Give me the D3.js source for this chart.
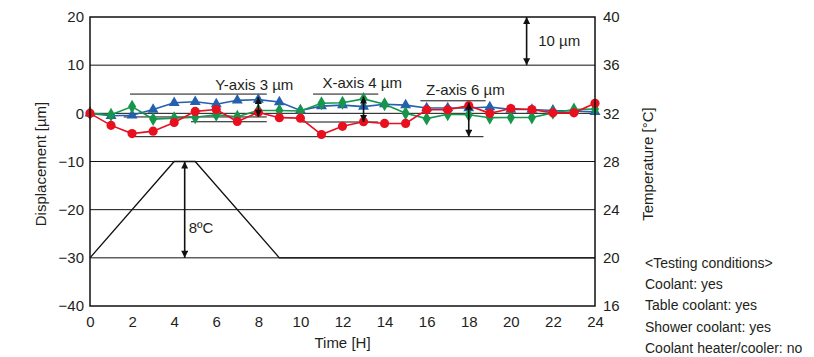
<!DOCTYPE html>
<html><head><meta charset="utf-8">
<script src="https://cdn.jsdelivr.net/npm/d3@7"></script>
<style>
body{margin:0;background:#fff;}
text{font-family:"Liberation Sans",Arial,Helvetica,sans-serif;fill:#231f20;}
</style></head>
<body><svg id="c" width="814" height="357"></svg>
<script>
// ---- data ----
const hours = [0,1,2,3,4,5,6,7,8,9,10,11,12,13,14,15,16,17,18,19,20,21,22,23,24];
const yAxisDisp = [0,-0.5,-0.4,0.8,2.2,2.4,1.9,2.7,2.85,2.35,0.6,1.5,1.7,1.4,1.9,1.7,1.1,1.1,1.1,1.3,0.8,0.8,0.6,0.5,0.3];
const xAxisDisp = [0,-0.3,1.4,-1.2,-1.0,-0.8,-0.3,-0.7,0.6,0.6,0.5,2.1,2.2,3.0,1.9,0.0,-1.1,-0.2,-0.3,-0.9,-0.85,-0.85,0.1,0.8,0.9];
const zAxisDisp = [0,-2.5,-4.2,-3.7,-1.9,0.4,0.8,-1.7,0.2,-0.9,-1.0,-4.4,-2.7,-1.75,-2.1,-2.1,0.75,0.75,1.6,0.0,1.0,0.8,0.1,0.1,2.1];
const tempHours = [0,4,5,9,24];
const tempValues = [20,28,28,20,20];
const dispTicks = [-40,-30,-20,-10,0,10,20];
const gridValues = [10,0,-10,-20,-30];
const tempTicks = [16,20,24,28,32,36,40];
const timeTicks = [0,2,4,6,8,10,12,14,16,18,20,22,24];
// annotation reference segments (µm, from hour, to hour)
const refValues = [4.0,-0.75,-1.75,4.0,-1.8,2.6,-4.85];
const refStart  = [1.9,1.6,4.8,10.6,10.1,15.7,1.9];
const refEnd    = [8.4,8.4,8.4,13.7,13.7,18.8,18.7];
// range arrows (hour, from µm, to µm)
const arrowHours = [8.0,13.0,18.0,20.75];
const arrowFrom  = [3.4,3.5,2.2,20];
const arrowTo    = [-0.7,-1.8,-4.85,10];
const arrowLabels = ["Y-axis 3 µm","X-axis 4 µm","Z-axis 6 µm","10 µm"];
const labelHours = [5.95,11.05,15.97,21.3];
const labelValues = [4.8,5.2,3.8,14.0];
const tempArrowHour = 4.5, tempArrowFrom = 28, tempArrowTo = 20, tempArrowLabel = "8ºC", tempLabelAt = 22.1;
const conditions = ["<Testing conditions>","Coolant: yes","Table coolant: yes","Shower coolant: yes","Coolant heater/cooler: no"];

// ---- chart ----
const svg = d3.select("#c");
const L=90,R=595,T=17,B=306;
const x = d3.scaleLinear().domain([0,24]).range([L,R]);
const y = d3.scaleLinear().domain([-40,20]).range([B,T]);
const yT = d3.scaleLinear().domain([16,40]).range([B,T]);
const FS = "15px";

const defs = svg.append("defs");
defs.append("marker").attr("id","ah").attr("viewBox","0 0 10 10").attr("refX",10).attr("refY",5)
  .attr("markerWidth",9).attr("markerHeight",7).attr("markerUnits","userSpaceOnUse").attr("orient","auto-start-reverse")
  .append("path").attr("d","M0,0L10,5L0,10Z").attr("fill","#111");

// grid
svg.append("g").selectAll("line").data(gridValues).join("line")
  .attr("x1",L).attr("x2",R).attr("y1",d=>y(d)).attr("y2",d=>y(d))
  .attr("stroke","#111").attr("stroke-width",1);

// temperature line
svg.append("path").datum(tempHours.map((h,i)=>[h,tempValues[i]]))
  .attr("d",d3.line().x(d=>x(d[0])).y(d=>yT(d[1])))
  .attr("fill","none").attr("stroke","#111").attr("stroke-width",1.3);

// reference segments
svg.append("g").selectAll("line").data(refValues).join("line")
  .attr("x1",(d,i)=>x(refStart[i])).attr("x2",(d,i)=>x(refEnd[i]))
  .attr("y1",d=>y(d)).attr("y2",d=>y(d)).attr("stroke","#111").attr("stroke-width",1);

// series
const series = [
  {v:yAxisDisp,c:"#2560ad",sym:d3.symbolTriangle,size:52},
  {v:xAxisDisp,c:"#16964a",sym:d3.symbolDiamond,size:56},
  {v:zAxisDisp,c:"#e8101f",sym:d3.symbolCircle,size:66}
];
series.forEach(s=>{
  const pts = hours.map((h,i)=>[h,s.v[i]]);
  svg.append("path").datum(pts).attr("d",d3.line().x(d=>x(d[0])).y(d=>y(d[1])))
    .attr("fill","none").attr("stroke",s.c).attr("stroke-width",1.6);
  svg.append("g").selectAll("path").data(pts).join("path")
    .attr("transform",d=>`translate(${x(d[0])},${y(d[1])})`)
    .attr("d",d3.symbol().type(s.sym).size(s.size)).attr("fill",s.c);
});

// arrows
svg.append("g").selectAll("line").data(arrowHours).join("line")
  .attr("x1",d=>x(d)).attr("x2",d=>x(d))
  .attr("y1",(d,i)=>y(arrowFrom[i])).attr("y2",(d,i)=>y(arrowTo[i]))
  .attr("stroke","#111").attr("stroke-width",1.6)
  .attr("marker-start","url(#ah)").attr("marker-end","url(#ah)");
svg.append("line").attr("x1",x(tempArrowHour)).attr("x2",x(tempArrowHour))
  .attr("y1",yT(tempArrowFrom)).attr("y2",yT(tempArrowTo))
  .attr("stroke","#111").attr("stroke-width",1.6)
  .attr("marker-start","url(#ah)").attr("marker-end","url(#ah)");

svg.append("g").selectAll("text").data(arrowLabels).join("text")
  .attr("x",(d,i)=>x(labelHours[i])).attr("y",(d,i)=>y(labelValues[i]))
  .attr("font-size",FS).text(d=>d);
svg.append("text").attr("x",x(tempArrowHour)+4).attr("y",yT(tempLabelAt)).attr("font-size",FS).text(tempArrowLabel);

// frame
svg.append("rect").attr("x",L).attr("y",T).attr("width",R-L).attr("height",B-T)
  .attr("fill","none").attr("stroke","#111").attr("stroke-width",1.5);

// axes
const ax = g=>{g.select(".domain").remove(); g.selectAll("text").attr("font-size",FS).attr("font-family","Liberation Sans, Arial, sans-serif").attr("fill","#231f20");};
svg.append("g").attr("transform",`translate(${L},0)`)
  .call(d3.axisLeft(y).tickValues(dispTicks).tickSize(0).tickPadding(6)).call(ax);
svg.append("g").attr("transform",`translate(${R},0)`)
  .call(d3.axisRight(yT).tickValues(tempTicks).tickSize(0).tickPadding(8)).call(ax);
svg.append("g").attr("transform",`translate(0,${B})`)
  .call(d3.axisBottom(x).tickValues(timeTicks).tickSize(0).tickPadding(10)).call(ax);

svg.append("text").attr("x",(L+R)/2).attr("y",348).attr("text-anchor","middle").attr("font-size",FS).text("Time [H]");
svg.append("text").attr("transform","translate(46,164) rotate(-90)").attr("text-anchor","middle").attr("font-size",FS).text("Displacement [µm]");
svg.append("text").attr("transform","translate(653,164) rotate(-90)").attr("text-anchor","middle").attr("font-size",FS).text("Temperature [°C]");

svg.append("g").selectAll("text").data(conditions).join("text")
  .attr("x",645).attr("y",(d,i)=>268+i*21.2).attr("font-size","14px").text(d=>d);
</script></body></html>
